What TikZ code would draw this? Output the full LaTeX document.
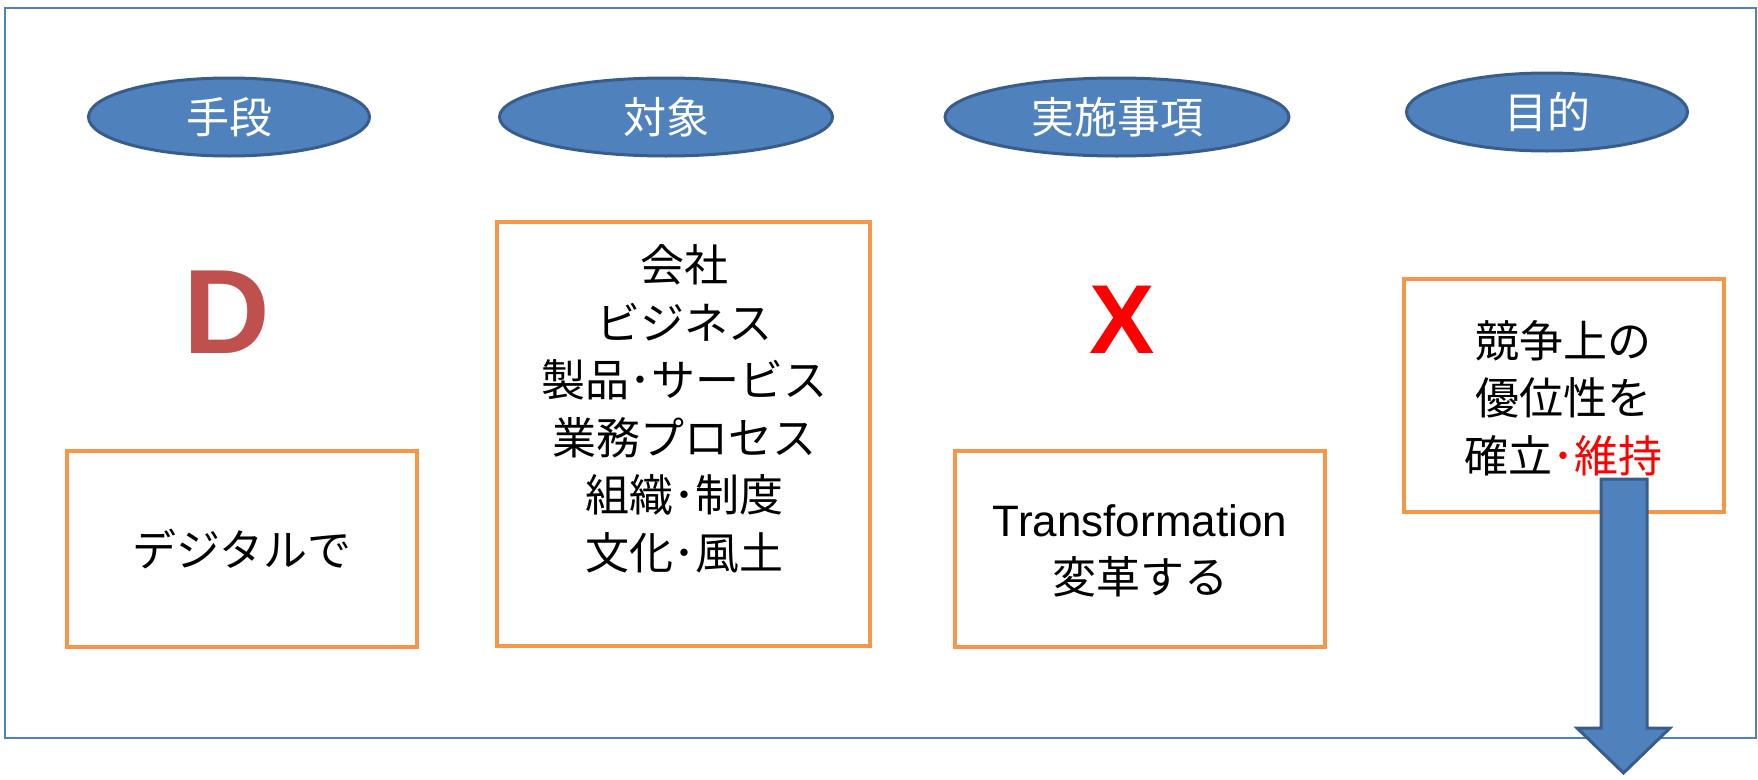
\documentclass[tikz,border=0pt]{standalone}
\usepackage{fontspec}
\setmainfont{Noto Sans CJK JP}
\newfontfamily\latinf{Liberation Sans}
\usetikzlibrary{shapes.geometric}
\definecolor{frameblue}{HTML}{4F81BD}
\definecolor{ellfill}{HTML}{4F81BD}
\definecolor{elldraw}{HTML}{385D8A}
\definecolor{boxorange}{HTML}{F79646}
\definecolor{dred}{HTML}{C0504D}
\definecolor{pred}{HTML}{FF0000}
\tikzset{
  headell/.style={ellipse, draw=elldraw, fill=ellfill, line width=3pt, inner sep=0pt,
    text=white, font=\fontsize{43}{50}\selectfont},
  obox/.style={draw=boxorange, line width=4pt, rectangle, inner sep=0pt},
  btext/.style={align=center, font=\fontsize{44}{57.5}\selectfont, inner sep=0pt},
  bigletter/.style={inner sep=0pt, font=\latinf\bfseries},
}
\begin{document}
\begin{tikzpicture}[x=1pt,y=-1pt]
\useasboundingbox (0,0) rectangle (1758,779);
% outer frame
\node[draw=frameblue, line width=2pt, inner sep=0pt, minimum width=1751pt, minimum height=730pt] (frame) at (880.5,373) {};
% header ellipses
\node[headell, minimum width=281pt, minimum height=78pt] (e1) at (229,117) {手段};
\node[headell, minimum width=333pt, minimum height=78pt] (e2) at (666,117) {対象};
\node[headell, minimum width=344pt, minimum height=78pt] (e3) at (1117,117) {実施事項};
\node[headell, minimum width=281pt, minimum height=78pt] (e4) at (1547,112) {目的};
% orange boxes
\node[obox, minimum width=350pt, minimum height=196pt] (b1) at (242,549) {};
\node[obox, minimum width=373pt, minimum height=424pt] (b2) at (683.5,434) {};
\node[obox, minimum width=370pt, minimum height=196pt] (b3) at (1140,549) {};
\node[obox, minimum width=320pt, minimum height=233pt] (b4) at (1564,395.5) {};
% big letters
\node[bigletter, text=dred, font=\latinf\bfseries\fontsize{120}{120}\selectfont, anchor=base] (D) at (227,353) {D};
\node[bigletter, text=pred, font=\latinf\bfseries\fontsize{98}{98}\selectfont, anchor=base] (X) at (1122,353) {X};
% texts
\node[btext] (t1) at (242,549) {デジタルで};
\node[btext] (t2) at (684,409) {会社\\ビジネス\\製品･サービス\\業務プロセス\\組織･制度\\文化･風土};
\node[btext] (t3) at (1140,551) {{\latinf Transformation}\\変革する};
\node[btext] (t4) at (1563,398) {競争上の\\優位性を\\確立{\color{pred}･維持}};
% down arrow
\draw[fill=ellfill, draw=elldraw, line width=3pt, line join=miter]
  (1601,479) -- (1647,479) -- (1647,728) -- (1670,728) -- (1623.5,773) -- (1577,728) -- (1601,728) -- cycle;
\end{tikzpicture}
\end{document}
